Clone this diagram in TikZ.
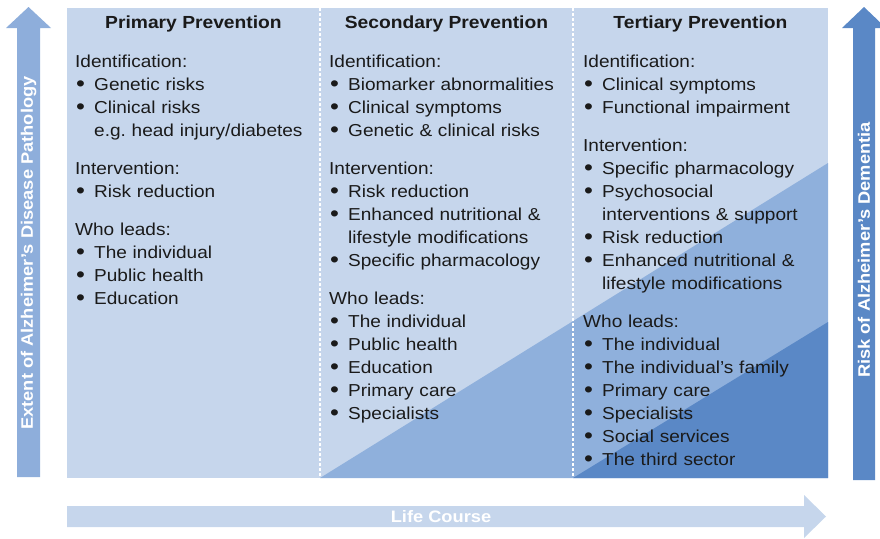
\documentclass[tikz,border=0pt]{standalone}
\usepackage{fontspec}
\setmainfont{Liberation Sans}[FakeStretch=1.1]
\usetikzlibrary{positioning}
\definecolor{panel}{RGB}{198,214,236}
\definecolor{mittel}{RGB}{143,176,220}
\definecolor{dunkel}{RGB}{90,136,198}
\definecolor{pfeilhell}{RGB}{142,174,219}
\definecolor{schrift}{RGB}{26,26,26}
\newcommand{\bul}{\makebox[19pt][l]{\hspace{1pt}\raisebox{-1.5pt}{\fontsize{23}{23}\selectfont\textbullet}}}
\newcommand{\weiter}{\hspace*{19pt}}
\frenchspacing
\tikzset{
	spalte/.style={anchor=base west, inner sep=0pt, text width=245pt, align=left,
		text=schrift, font=\fontsize{17.3}{23}\selectfont},
	kopf/.style={inner sep=0pt, text=schrift, font=\fontsize{17.5}{22}\selectfont\bfseries},
	pfeiltext/.style={inner sep=0pt, text=white, font=\fontsize{16.6}{20}\selectfont\bfseries},
	trenner/.style={white, line width=1.2pt, dash pattern=on 3pt off 2pt}
}
\begin{document}
\begin{tikzpicture}[x=1pt,y=-1pt]
	\useasboundingbox (0,0) rectangle (880,538);
	\fill[panel] (67,8) coordinate (P) rectangle (828,478) coordinate (Q);
	\fill[mittel] (320,478) -- (828,163) -- (828,478) -- cycle;
	\fill[dunkel] (573,478) -- (828,322) -- (828,478) -- cycle;
	\coordinate (T1) at (320,8);
	\coordinate (T2) at (573,8);
	\draw[trenner] (T1) -- (320,478) (T2) -- (573,478);
	\fill[pfeilhell] (17,477) -- (17,28) -- (6,28) -- (28.5,7) -- (51,28) -- (40,28) -- (40,477) -- cycle;
	\fill[dunkel] (853,480) -- (853,28) -- (842,28) -- (864,7) -- (886,28) -- (875,28) -- (875,480) -- cycle;
	\fill[panel] (67,506) -- (804,506) -- (804,495) -- (826,516.5) -- (804,538) -- (804,527) -- (67,527) -- cycle;
	\node[pfeiltext, rotate=90, name=Y1] at (28.5,253) {Extent of Alzheimer's Disease Pathology};
	\node[pfeiltext, rotate=90, name=Y2] at (864,250) {Risk of Alzheimer's Dementia};
	\node[pfeiltext, name=X] at (441,517) {Life Course};
	\node[kopf, name=H1] at (193.5,24) {Primary Prevention};
	\node[kopf, name=H2] at (446.5,24) {Secondary Prevention};
	\node[kopf, name=H3] at (700.5,24) {Tertiary Prevention};
	\node[spalte, name=S1] at (75,67) {Identification:\\
		\bul Genetic risks\\
		\bul Clinical risks\\
		\weiter e.g. head injury/diabetes\\[15pt]
		Intervention:\\
		\bul Risk reduction\\[15pt]
		Who leads:\\
		\bul The individual\\
		\bul Public health\\
		\bul Education};
	\node[spalte, name=S2] at (329,67) {Identification:\\
		\bul Biomarker abnormalities\\
		\bul Clinical symptoms\\
		\bul Genetic \& clinical risks\\[15pt]
		Intervention:\\
		\bul Risk reduction\\
		\bul Enhanced nutritional \&\\
		\weiter lifestyle modifications\\
		\bul Specific pharmacology\\[15pt]
		Who leads:\\
		\bul The individual\\
		\bul Public health\\
		\bul Education\\
		\bul Primary care\\
		\bul Specialists};
	\node[spalte, name=S3] at (583,67) {Identification:\\
		\bul Clinical symptoms\\
		\bul Functional impairment\\[15pt]
		Intervention:\\
		\bul Specific pharmacology\\
		\bul Psychosocial\\
		\weiter interventions \& support\\
		\bul Risk reduction\\
		\bul Enhanced nutritional \&\\
		\weiter lifestyle modifications\\[15pt]
		Who leads:\\
		\bul The individual\\
		\bul The individual's family\\
		\bul Primary care\\
		\bul Specialists\\
		\bul Social services\\
		\bul The third sector};
\end{tikzpicture}
\end{document}
